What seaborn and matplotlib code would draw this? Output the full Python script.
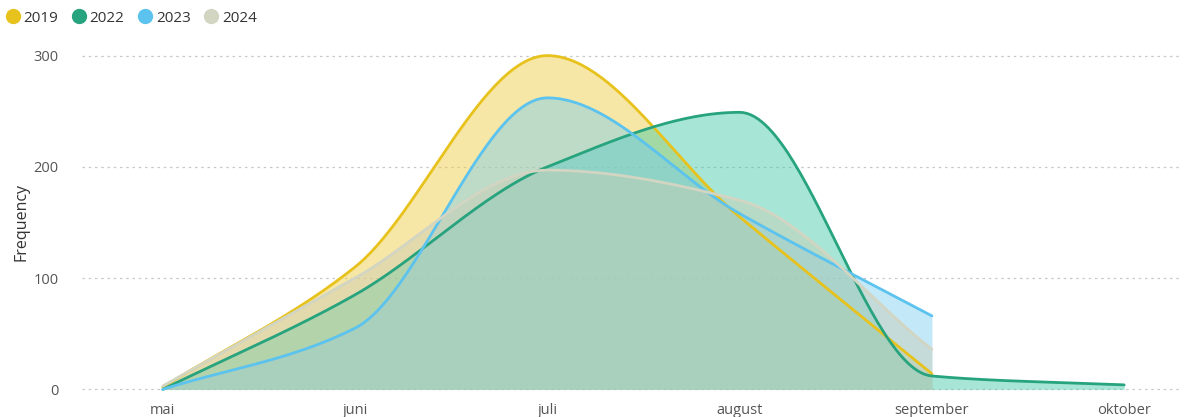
import seaborn as sns
import matplotlib.pyplot as plt
import pandas as pd
import numpy as np

months = ["mai", "juni", "juli", "august", "september", "oktober"]
years = ["2019", "2022", "2023", "2024"]
freq_2019 = [2, 110, 300, 155, 14]
freq_2022 = [0, 85, 200, 249, 12, 4]
freq_2023 = [0, 55, 262, 158, 66]
freq_2024 = [3, 100, 197, 170, 36]
colors = ["#E8C21C", "#27A37E", "#5BC3EE", "#D3D5C3"]
fill_colors = ["#EFCB3A", "#3CC8A5", "#7ACDF0", "#C9CCB4"]


def monotone(x, y, n=60):
    # monotone cubic (Fritsch-Carlson), like a "smooth" line in BI tools
    x = np.asarray(x, float)
    y = np.asarray(y, float)
    h = np.diff(x)
    d = np.diff(y) / h
    m = np.zeros_like(y)
    m[0], m[-1] = d[0], d[-1]
    for i in range(1, len(y) - 1):
        if d[i - 1] * d[i] > 0:
            m[i] = 2 / (1 / d[i - 1] + 1 / d[i])
    xs, ys = [], []
    for i in range(len(x) - 1):
        t = np.linspace(0, 1, n, endpoint=(i == len(x) - 2))
        h00 = 2 * t**3 - 3 * t**2 + 1
        h10 = t**3 - 2 * t**2 + t
        h01 = -2 * t**3 + 3 * t**2
        h11 = t**3 - t**2
        xs.append(x[i] + t * h[i])
        ys.append(h00 * y[i] + h10 * h[i] * m[i] + h01 * y[i + 1] + h11 * h[i] * m[i + 1])
    return np.concatenate(xs), np.concatenate(ys)


series = {"2019": freq_2019, "2022": freq_2022, "2023": freq_2023, "2024": freq_2024}
frames = []
for yr, vals in series.items():
    xs, ys = monotone(range(len(vals)), vals)
    frames.append(pd.DataFrame({"month": xs, "freq": ys, "year": yr}))
df = pd.concat(frames, ignore_index=True)

sns.set_style("white")
plt.rcParams["font.family"] = ["Open Sans", "DejaVu Sans"]

fig = plt.figure(figsize=(11.89, 4.17), dpi=100)
ax = fig.add_axes([0.069, 0.053, 0.925, 0.827])

for yr, fc in zip(years, fill_colors):
    d = df[df["year"] == yr]
    ax.fill_between(d["month"], d["freq"], 0, color=fc, alpha=0.45, lw=0)

sns.lineplot(data=df, x="month", y="freq", hue="year", palette=colors,
             linewidth=2, ax=ax, legend=False, sort=False, estimator=None)

ax.set_xlim(-0.42, 5.3)
ax.set_ylim(-5, 305)
ax.set_xticks(range(len(months)))
ax.set_xticklabels(months)
ax.set_yticks([0, 100, 200, 300])
ax.tick_params(axis="both", length=0, labelsize=10.5, colors="#555555")
ax.tick_params(axis="y", pad=17)
ax.tick_params(axis="x", pad=6)
ax.grid(axis="y", color="#C8C8C8", linestyle=(0, (2, 3)), linewidth=0.9)
ax.set_axisbelow(True)
sns.despine(ax=ax, left=True, bottom=True)
ax.set_xlabel("")
ax.set_ylabel("Frequency", fontsize=11.5, color="#333333")
ax.yaxis.set_label_coords(-0.048, 0.5)

handles = [plt.Line2D([], [], marker="o", linestyle="", markersize=10,
                      markerfacecolor=c, markeredgecolor=c) for c in colors]
fig.legend(handles, years, loc="upper left", bbox_to_anchor=(-0.004, 1.0),
           ncol=4, frameon=False, handlelength=0.9, handletextpad=0.25,
           columnspacing=0.9, fontsize=11, labelcolor="#333333", borderaxespad=0.3)

plt.savefig("out.png", dpi=100)
